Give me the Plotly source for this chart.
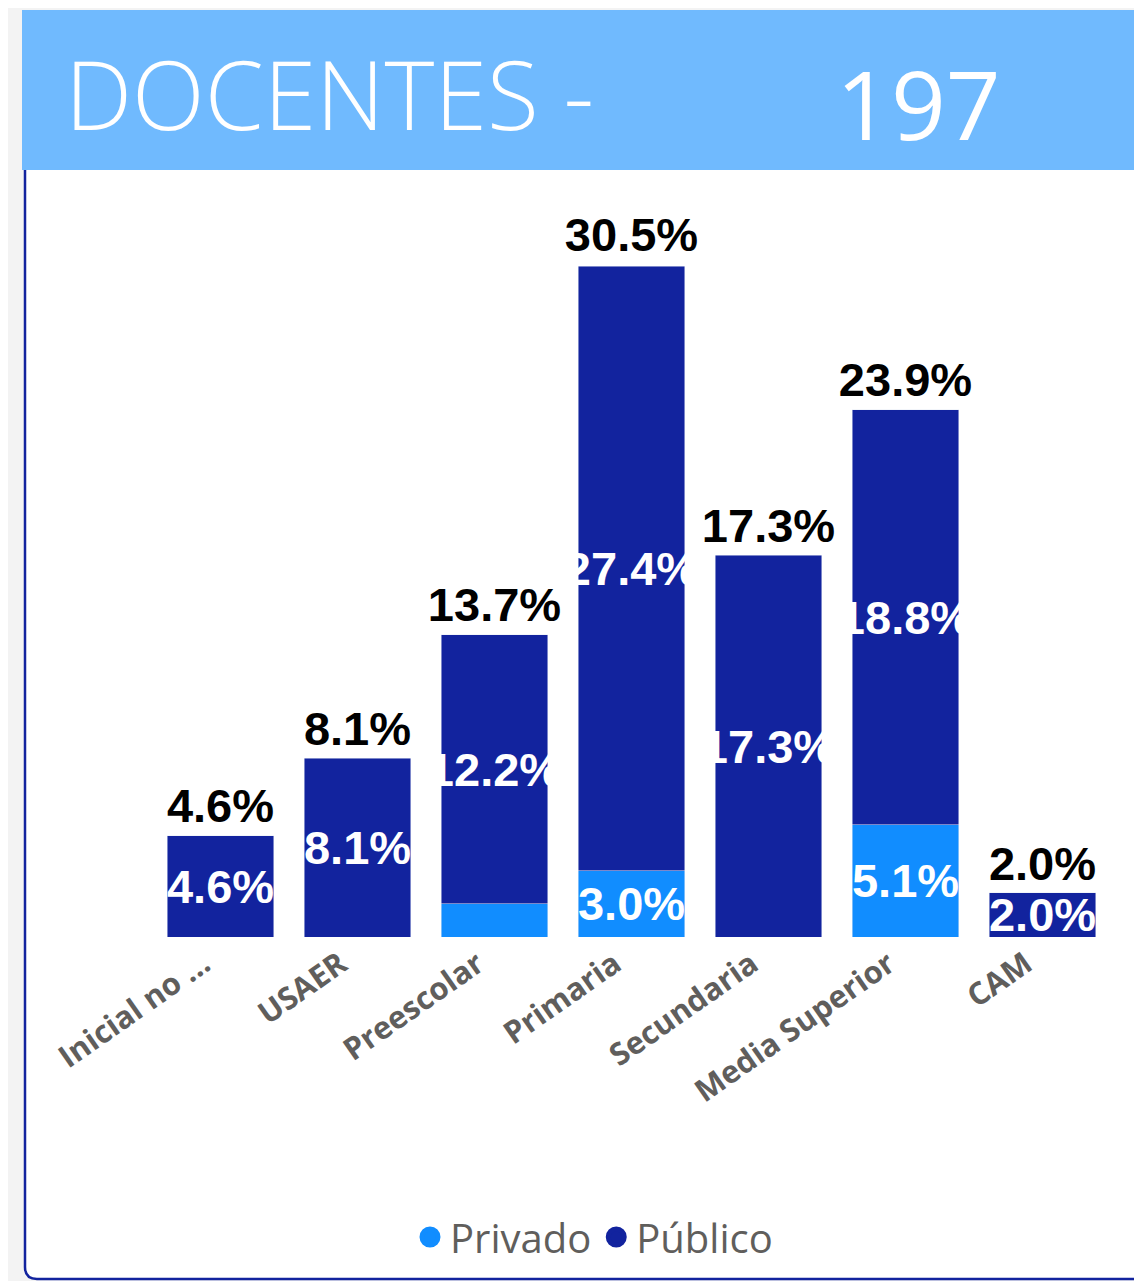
import plotly.graph_objects as go

# ---- data ----
categorias = ["Inicial no ...", "USAER", "Preescolar", "Primaria", "Secundaria", "Media Superior", "CAM"]
privado = [0, 0, 1.5, 3.0, 0, 5.1, 0]
publico = [4.6, 8.1, 12.2, 27.4, 17.3, 18.8, 2.0]
totales = [4.6, 8.1, 13.7, 30.5, 17.3, 23.9, 2.0]
titulo = "DOCENTES -"
total_docentes = "197"

# ---- layout helpers (page body has an 8px margin) ----
OFF = 8
W, H = 1134, 1273
ML, MT = 144, 179
BASE = 937  # baseline y in page pixels
PW = 959
MR = W - ML - PW
MB = H - (BASE - OFF)
PH = H - MT - MB


def px(x):
    return (x - OFF - ML) / PW


def py(y):
    return (H - MB - (y - OFF)) / PH


C_PUB = "#12239E"
C_PRI = "#118DFF"
GRIS = "#605E5C"
LBL_FONT = "Liberation Sans, Arial, sans-serif"


def etiquetas(vals, minimo):
    return [f"{v:.1f}%" if v >= minimo else "" for v in vals]


fig = go.Figure()
fig.add_trace(go.Bar(
    x=categorias, y=privado, name="Privado", marker_color=C_PRI,
    text=etiquetas(privado, 2), textposition="inside", insidetextanchor="middle",
    constraintext="none", cliponaxis=False,
    textangle=0, textfont=dict(family=LBL_FONT, size=47, color="white", weight="bold"),
    showlegend=False, hoverinfo="skip"))
fig.add_trace(go.Bar(
    x=categorias, y=publico, name="Público", marker_color=C_PUB,
    text=etiquetas(publico, 2), textposition="inside", insidetextanchor="middle",
    constraintext="none", cliponaxis=False,
    textangle=0, textfont=dict(family=LBL_FONT, size=47, color="white", weight="bold"),
    showlegend=False, hoverinfo="skip"))
fig.add_trace(go.Scatter(
    x=categorias, y=totales, mode="markers+text", text=[f"{v:.1f}%" for v in totales],
    textposition="top center", marker=dict(size=1, opacity=0),
    textfont=dict(family=LBL_FONT, size=47, color="black", weight="bold"),
    showlegend=False, hoverinfo="skip", cliponaxis=False))
# legend entries
fig.add_trace(go.Scatter(x=[None], y=[None], mode="markers", name="Privado",
                         marker=dict(size=16, color=C_PRI, symbol="circle",
                                     line=dict(color=C_PRI, width=5))))
fig.add_trace(go.Scatter(x=[None], y=[None], mode="markers", name="Público",
                         marker=dict(size=16, color=C_PUB, symbol="circle",
                                     line=dict(color=C_PUB, width=5))))

r = 12
bottom = 1279
panel_path = (f"M {px(25)},{py(150)} L {px(25)},{py(bottom - r)} "
              f"Q {px(25)},{py(bottom)} {px(25 + r)},{py(bottom)} "
              f"L {px(1170)},{py(bottom)} L {px(1170)},{py(150)} Z")

fig.update_layout(
    width=W, height=H,
    margin=dict(l=ML, r=MR, t=MT, b=MB, autoexpand=False),
    paper_bgcolor="#F3F3F3", plot_bgcolor="rgba(0,0,0,0)",
    barmode="stack", bargap=0.226,
    xaxis=dict(showgrid=False, showline=False, zeroline=False, ticks="",
               tickangle=-35, ticklabelstandoff=2, ticklabelshift=-17,
               tickfont=dict(family="Open Sans, Noto Sans, sans-serif", size=31,
                             color=GRIS, weight="bold")),
    yaxis=dict(visible=False, range=[0, 34]),
    showlegend=True,
    legend=dict(orientation="h", x=px(594), xanchor="center", y=py(1237), yanchor="middle",
                traceorder="normal",
                font=dict(family="Open Sans, Noto Sans, sans-serif", size=40, color=GRIS),
                bgcolor="rgba(0,0,0,0)", itemsizing="trace"),
    shapes=[
        dict(type="path", xref="paper", yref="paper", path=panel_path,
             fillcolor="white", line=dict(color=C_PUB, width=2.5), layer="below"),
        dict(type="rect", xref="paper", yref="paper", x0=px(22), x1=px(1170),
             y0=py(170), y1=py(10), fillcolor="#70BAFE", line=dict(width=0), layer="below"),
    ],
    annotations=[
        dict(text=titulo, xref="paper", yref="paper", x=px(63), y=py(93),
             xanchor="left", yanchor="middle", showarrow=False,
             font=dict(family="Open Sans, Noto Sans, sans-serif", size=95, color="white", weight=300)),
        dict(text=total_docentes, xref="paper", yref="paper", x=px(918), y=py(102),
             xanchor="center", yanchor="middle", showarrow=False,
             font=dict(family="Open Sans, Noto Sans, sans-serif", size=96, color="white")),
    ],
)

fig.write_html("out.html")
